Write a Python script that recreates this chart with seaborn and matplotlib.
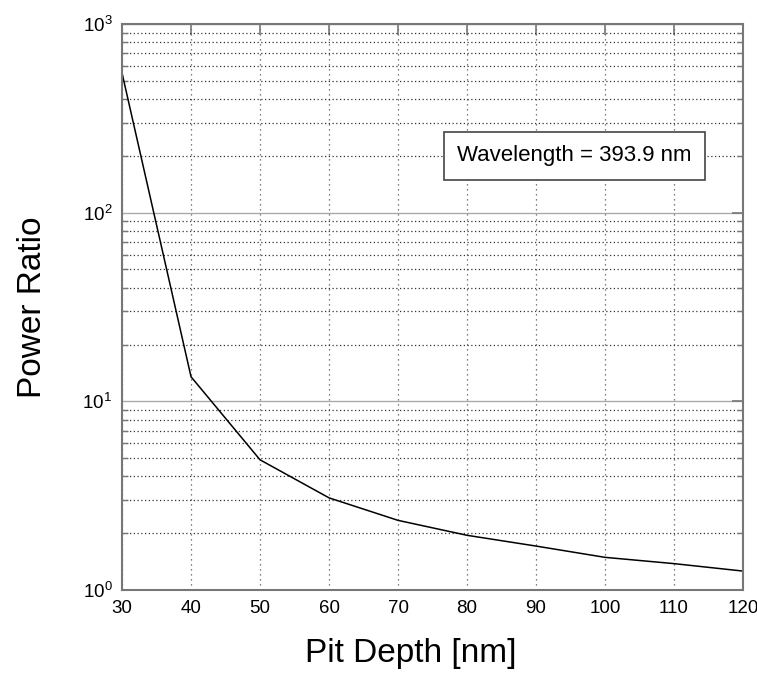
import matplotlib
matplotlib.use("Agg")
import matplotlib.pyplot as plt
import matplotlib.ticker as mticker
import seaborn as sns
import pandas as pd

# values
pit_depth = [30, 40, 50, 60, 70, 80, 90, 100, 110, 120]
power_ratio = [550, 13.5, 4.9, 3.08, 2.34, 1.95, 1.71, 1.49, 1.38, 1.26]
x_ticks = [30, 40, 50, 60, 70, 80, 90, 100, 110, 120]
note = "Wavelength = 393.9 nm"

sns.set_theme(style="white")
plt.rcParams['font.family'] = ['Liberation Sans', 'DejaVu Sans']
plt.rcParams['mathtext.fontset'] = 'custom'
plt.rcParams['mathtext.rm'] = 'Liberation Sans'
plt.rcParams['mathtext.it'] = 'Liberation Sans'
plt.rcParams['text.color'] = 'black'

df = pd.DataFrame({"depth": pit_depth, "ratio": power_ratio})

fig = plt.figure(figsize=(7.57, 6.75), dpi=100)
ax = fig.add_axes([0.1612, 0.1259, 0.8203, 0.8385])

sns.lineplot(data=df, x="depth", y="ratio", color="black", lw=1.1, ax=ax)

ax.set_yscale("log")
ax.set_xlim(30, 120)
ax.set_ylim(1, 1000)
ax.set_xticks(x_ticks)
ax.yaxis.set_major_locator(mticker.LogLocator(base=10, numticks=10))
ax.yaxis.set_minor_locator(mticker.LogLocator(base=10, subs=range(2, 10), numticks=20))
ax.yaxis.set_minor_formatter(mticker.NullFormatter())

# grid like the matlab export
ax.grid(True, which="major", axis="x", ls=(0, (1, 3)), color="#555555", lw=0.9)
ax.grid(True, which="major", axis="y", ls="-", color="#aaaaaa", lw=1.0)
ax.grid(True, which="minor", axis="y", ls=(0, (1, 2)), color="#333333", lw=0.9)

for s in ax.spines.values():
    s.set_color("#777777")
    s.set_linewidth(1.5)

ax.tick_params(axis="both", which="major", direction="in", length=8, width=1.2,
               color="#777777", top=True, right=True, labelsize=13.5, pad=7,
               labelcolor="black")
ax.tick_params(axis="y", which="minor", direction="in", length=4, width=1.0,
               color="#777777", right=True, left=True)

ax.set_xlabel("Pit Depth [nm]", fontsize=24, color="black")
ax.set_ylabel("Power Ratio", fontsize=24, color="black")
ax.xaxis.set_label_coords(0.465, -0.085)
ax.yaxis.set_label_coords(-0.12, 0.5)

ax.text(0.729, 0.767, note, transform=ax.transAxes, fontsize=16, ha="center", va="center",
        bbox=dict(boxstyle="square,pad=0.6", fc="white", ec="#444444", lw=1.2))

fig.savefig("out.png", dpi=100)
